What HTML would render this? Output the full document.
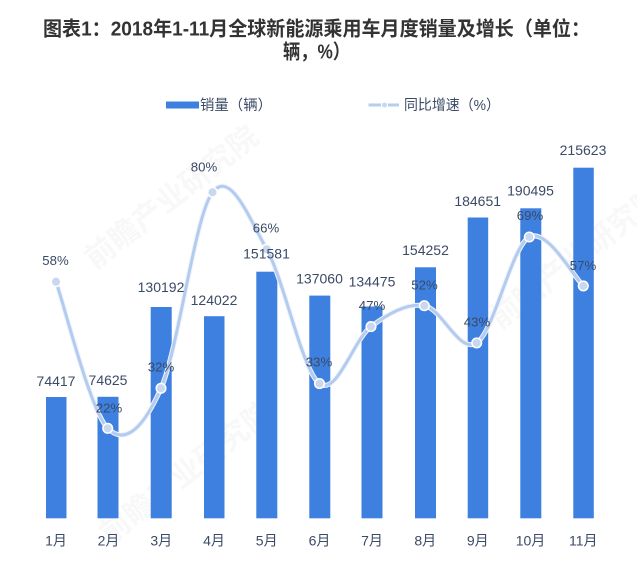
<!DOCTYPE html>
<html>
<head>
<meta charset="utf-8">
<style>
html,body{margin:0;padding:0;background:#fff;}
svg{display:block;}
text{font-family:"Liberation Sans","Noto Sans CJK SC",sans-serif;}
</style>
</head>
<body>
<svg width="637" height="570" viewBox="0 0 637 570" xmlns="http://www.w3.org/2000/svg">
<rect width="637" height="570" fill="#fff"/>

<!-- watermarks -->
<g fill="#000" opacity="0.03" font-size="30" font-weight="bold">
<text x="95" y="270" transform="rotate(-38 95 270)">前瞻产业研究院</text>
<text x="110" y="545" transform="rotate(-38 110 545)">前瞻产业研究院</text>
<text x="500" y="330" transform="rotate(-38 500 330)">前瞻产业研究院</text>
</g>

<!-- title -->
<g fill="#333" font-weight="bold" font-size="20" text-anchor="start">
<text x="43" y="35.5" textLength="547" lengthAdjust="spacingAndGlyphs">图表1：2018年1-11月全球新能源乘用车月度销量及增长（单位：</text>
<text x="283" y="58.5" textLength="67" lengthAdjust="spacingAndGlyphs">辆，%）</text>
</g>

<!-- legend -->
<rect x="166" y="101.5" width="33" height="7" fill="#3d80df"/>
<text x="200" y="110" font-size="14.5" fill="#3b4a66" textLength="72" lengthAdjust="spacingAndGlyphs">销量（辆）</text>
<line x1="368.5" y1="105" x2="399" y2="105" stroke="#b6cdf0" stroke-width="3"/>
<circle cx="384.5" cy="105" r="3" fill="#c9d8f0" stroke="#fff" stroke-width="1"/>
<text x="404" y="110" font-size="14.5" fill="#3b4a66" textLength="96" lengthAdjust="spacingAndGlyphs">同比增速（%）</text>

<!-- bars -->
<g fill="#3d80df">
<rect x="46" y="397" width="20.5" height="121.3"/>
<rect x="97.5" y="396.8" width="21" height="121.5"/>
<rect x="150.7" y="307" width="21" height="211.3"/>
<rect x="204" y="316.2" width="20.5" height="202.1"/>
<rect x="256.3" y="271.7" width="21" height="246.6"/>
<rect x="309.3" y="295.6" width="21" height="222.7"/>
<rect x="361.5" y="306.5" width="21" height="211.8"/>
<rect x="415" y="267.3" width="21" height="251"/>
<rect x="467.7" y="217.5" width="20.5" height="300.8"/>
<rect x="520.3" y="208.3" width="21" height="310"/>
<rect x="573.3" y="167.7" width="20.5" height="350.6"/>
</g>

<!-- line -->
<path d="M56,281.7 C64.62,306.13 90.2,410.53 107.7,428.3 C125.2,446.07 143.53,427.63 161,388.3 C178.47,348.97 194.88,215.48 212.5,192.3 C230.12,169.12 248.87,217.32 266.7,249.2 C284.53,281.08 302.12,370.7 319.5,383.6 C336.88,396.5 353.53,339.58 371,326.6 C388.47,313.62 406.68,302.98 424.3,305.7 C441.92,308.42 459.2,354.35 476.7,342.9 C494.2,331.45 511.53,246.5 529.3,237 C547.07,227.5 574.3,277.75 583.3,285.9" fill="none" stroke="#eef3fb" stroke-width="5" stroke-linecap="round"/>
<path d="M56,281.7 C64.62,306.13 90.2,410.53 107.7,428.3 C125.2,446.07 143.53,427.63 161,388.3 C178.47,348.97 194.88,215.48 212.5,192.3 C230.12,169.12 248.87,217.32 266.7,249.2 C284.53,281.08 302.12,370.7 319.5,383.6 C336.88,396.5 353.53,339.58 371,326.6 C388.47,313.62 406.68,302.98 424.3,305.7 C441.92,308.42 459.2,354.35 476.7,342.9 C494.2,331.45 511.53,246.5 529.3,237 C547.07,227.5 574.3,277.75 583.3,285.9" fill="none" stroke="#b3cbef" stroke-width="3" stroke-linecap="round"/>
<g fill="#c9d8f0" stroke="#fff" stroke-width="1.5">
<circle cx="56" cy="281.7" r="4.8"/>
<circle cx="107.7" cy="428.3" r="4.8"/>
<circle cx="161" cy="388.3" r="4.8"/>
<circle cx="212.5" cy="192.3" r="4.8"/>
<circle cx="266.7" cy="249.2" r="4.8"/>
<circle cx="319.5" cy="383.6" r="4.8"/>
<circle cx="371" cy="326.6" r="4.8"/>
<circle cx="424.3" cy="305.7" r="4.8"/>
<circle cx="476.7" cy="342.9" r="4.8"/>
<circle cx="529.3" cy="237" r="4.8"/>
<circle cx="583.3" cy="285.9" r="4.8"/>
</g>

<!-- value labels -->
<g fill="#3b4a66" font-size="14" text-anchor="middle">
<text x="56" y="386">74417</text>
<text x="108" y="385">74625</text>
<text x="161" y="292">130192</text>
<text x="214" y="305">124022</text>
<text x="266.5" y="258.3">151581</text>
<text x="319.5" y="283.5">137060</text>
<text x="372" y="286.7">134475</text>
<text x="425.5" y="255">154252</text>
<text x="477.7" y="206">184651</text>
<text x="530.5" y="195.7">190495</text>
<text x="583" y="155">215623</text>
</g>

<!-- percent labels -->
<g fill="#3b4a66" font-size="13.2" text-anchor="middle">
<text x="55.5" y="265">58%</text>
<text x="109" y="412.7">22%</text>
<text x="161" y="371.7">32%</text>
<text x="204" y="171.7">80%</text>
<text x="266" y="232.7">66%</text>
<text x="319" y="366.7">33%</text>
<text x="372" y="310">47%</text>
<text x="424.5" y="289.5">52%</text>
<text x="477" y="326.7">43%</text>
<text x="530" y="220">69%</text>
<text x="583" y="270">57%</text>
</g>

<!-- x axis labels -->
<g fill="#3b4a66" font-size="14" text-anchor="middle">
<text x="56" y="545.5">1月</text>
<text x="108.5" y="545.5">2月</text>
<text x="161.3" y="545.5">3月</text>
<text x="214" y="545.5">4月</text>
<text x="266.7" y="545.5">5月</text>
<text x="319.5" y="545.5">6月</text>
<text x="372" y="545.5">7月</text>
<text x="425.3" y="545.5">8月</text>
<text x="477.8" y="545.5">9月</text>
<text x="530.5" y="545.5">10月</text>
<text x="583.3" y="545.5">11月</text>
</g>
</svg>
</body>
</html>
